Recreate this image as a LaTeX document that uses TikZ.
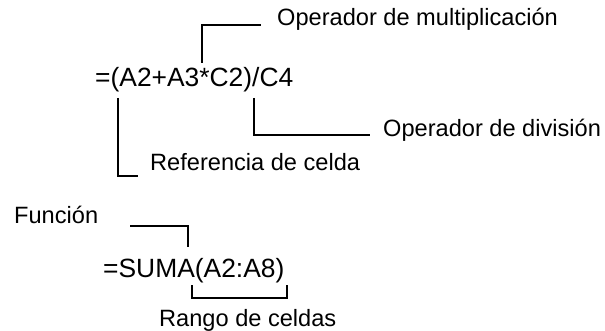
\documentclass[tikz,border=0pt]{standalone}
\usepackage{fontspec}
\setmainfont{Liberation Sans}
\usepackage{tikz}

\begin{document}
\begin{tikzpicture}[x=1pt,y=-1pt]%
\tikzstyle{formula} = [inner sep=0pt, anchor=base west, font=\fontsize{26.4}{30}\selectfont]
\tikzstyle{callout} = [inner sep=0pt, anchor=base west, font=\fontsize{23.6}{28}\selectfont]
\tikzstyle{leader} = [draw=black, line width=1.3pt]

\useasboundingbox (0,0) rectangle (605,331);

% formulas
\node [formula] (prec) at (95,87) {=(A2+A3*C2)/C4};
\node [formula] (suma) at (103,277) {=SUMA(A2:A8)};

% labels
\node [callout] (mult) at (277,26) {Operador de multiplicación};
\node [callout] (divi) at (383,137) {Operador de división};
\node [callout] (refc) at (150,171) {Referencia de celda};
\node [callout] (func) at (14,224) {Función};
\node [callout] (rango) at (159,326) {Rango de celdas};

% leader lines
\coordinate (multfoot) at (202,63);
\coordinate (multend) at (261,25);
\coordinate (reftop) at (118,98);
\coordinate (refend) at (138,176);
\coordinate (divtop) at (254,98);
\coordinate (divend) at (370,135);
\coordinate (funcstart) at (130,226);
\coordinate (funcfoot) at (188,247);
\coordinate (rgleft) at (192,285);
\coordinate (rgright) at (287,298);

\draw [leader] (multfoot) |- (multend);
\draw [leader] (reftop) |- (refend);
\draw [leader] (divtop) |- (divend);
\draw [leader] (funcstart) -| (funcfoot);
\draw [leader] (rgleft) |- (rgright) -- ++(0,-13);
\end{tikzpicture}
\end{document}
